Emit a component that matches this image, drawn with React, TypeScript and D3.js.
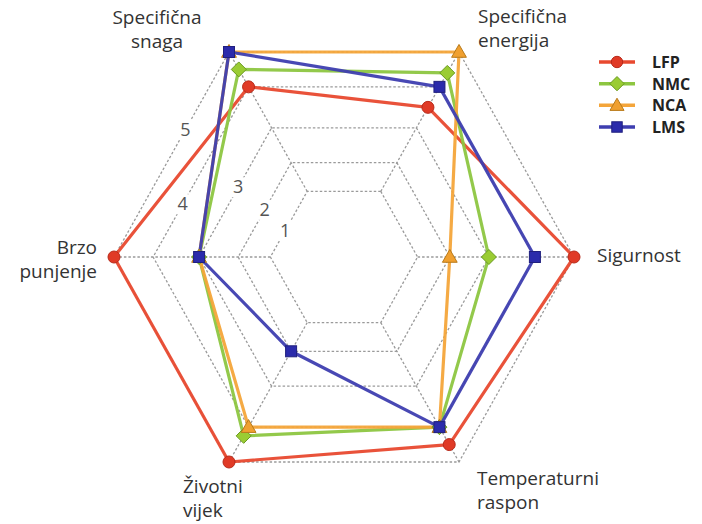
import React from "react";
import * as d3 from "d3";

const axes = [
  ["Specifična", "energija"],
  ["Sigurnost"],
  ["Temperaturni", "raspon"],
  ["Životni", "vijek"],
  ["Brzo", "punjenje"],
  ["Specifična", "snaga"],
];
const seriesNames = ["LFP", "NMC", "NCA", "LMS"];
const lfp = [3.5, 5, 4.5, 5, 5, 4];
const nmc = [4.4, 3, 4, 4.25, 3, 4.5];
const nca = [5, 2, 4, 4, 3, 5];
const lms = [4, 4, 4, 2, 3, 5];
const tickValues = [1, 2, 3, 4, 5];
const tickLabels = ["1", "2", "3", "4", "5"];

// layout / style
const W = 702, H = 524;
const cx = 344, cy = 257, RX = 230, RY = 236.7;
const tickT = [0.4, 0.5, 0.54, 0.31, 0.62];
const colors = ["#e8492f", "#8dc641", "#f4a53a", "#3e3eb0"];
const markFill = ["#e03a26", "#9acc33", "#f0a030", "#2b2bab"];
const markStroke = ["#b82a1a", "#6a9a20", "#b87a1a", "#20207e"];
const shapes = ["circle", "diamond", "triangle", "square"];

const r = d3.scaleLinear().domain([0, 1, 2, 3, 4, 5]).range([0, 0.32, 0.46, 0.63, 0.83, 1]);
const angle = (i: number) => ((30 + 60 * i) * Math.PI) / 180;
const pt = (i: number, v: number): [number, number] => {
  const a = angle(i);
  return [cx + RX * r(v) * Math.sin(a), cy - RY * r(v) * Math.cos(a)];
};

function Marker({ shape, x, y, fill, stroke, s = 1 }: any) {
  if (shape === "circle") return <circle cx={x} cy={y} r={6 * s} fill={fill} stroke={stroke} strokeWidth={1} />;
  if (shape === "diamond") {
    const h = 7.5 * s;
    return <path d={`M${x},${y - h}L${x + h},${y}L${x},${y + h}L${x - h},${y}Z`} fill={fill} stroke={stroke} strokeWidth={1} />;
  }
  if (shape === "triangle") {
    const p = d3.symbol(d3.symbolTriangle, 95 * s * s)();
    return <path d={p || ""} transform={`translate(${x},${y + 1})`} fill={fill} stroke={stroke} strokeWidth={1} />;
  }
  const h = 5.5 * s;
  return <rect x={x - h} y={y - h} width={2 * h} height={2 * h} fill={fill} stroke={stroke} strokeWidth={1} />;
}

export default function App() {
  const data = [lfp, nmc, nca, lms];
  const line = d3.line<[number, number]>().curve(d3.curveLinearClosed);
  const ringPath = (v: number) => line(axes.map((_, i) => pt(i, v))) || "";
  const font = "'Open Sans', sans-serif";
  const labelPos = [
    { x: 478, y: 23, anchor: "start", dy: 24 },
    { x: 597, y: 262, anchor: "start", dy: 0 },
    { x: 477, y: 485, anchor: "start", dy: 24 },
    { x: 183, y: 493, anchor: "start", dy: 24 },
    { x: 97, y: 254, anchor: "end", dy: 24 },
    { x: 157, y: 24, anchor: "middle", dy: 24 },
  ];
  const legendY = d3.scalePoint<string>().domain(seriesNames).range([62, 127]);
  return (
    <svg width={W} height={H} style={{ position: "absolute", left: 0, top: 0, background: "#fff" }}>
      <g fill="none" stroke="#9a9a9a" strokeWidth={1.3} strokeDasharray="2.5,2">
        {tickValues.map((v) => (
          <path key={v} d={ringPath(v)} />
        ))}
        {axes.map((_, i) => {
          const [x1, y1] = pt(i, tickValues[0]);
          const [x2, y2] = pt(i, tickValues[tickValues.length - 1]);
          return <line key={i} x1={x1} y1={y1} x2={x2} y2={y2} />;
        })}
      </g>
      {tickValues.map((v, k) => {
        const [x1, y1] = pt(4, v);
        const [x2, y2] = pt(5, v);
        const t = tickT[k];
        const x = x1 + (x2 - x1) * t;
        const y = y1 + (y2 - y1) * t;
        return (
          <g key={v}>
            <rect x={x - 7} y={y - 10} width={14} height={20} fill="#fff" />
            <text x={x} y={y + 6} textAnchor="middle" fontFamily={font} fontSize={18} fill="#555">
              {tickLabels[k]}
            </text>
          </g>
        );
      })}
      {data.map((vals, s) => (
        <path
          key={s}
          d={line(vals.map((v, i) => pt(i, v))) || ""}
          fill="none"
          stroke={colors[s]}
          strokeWidth={3.2}
          strokeLinejoin="round"
          opacity={0.95}
        />
      ))}
      {data.map((vals, s) =>
        vals.map((v, i) => {
          const [x, y] = pt(i, v);
          return <Marker key={`${s}-${i}`} shape={shapes[s]} x={x} y={y} fill={markFill[s]} stroke={markStroke[s]} />;
        })
      )}
      {axes.map((lines, i) => (
        <text key={i} fontFamily={font} fontSize={19} fill="#333" textAnchor={labelPos[i].anchor}>
          {lines.map((l, j) => (
            <tspan key={j} x={labelPos[i].x} y={labelPos[i].y + j * labelPos[i].dy}>
              {l}
            </tspan>
          ))}
        </text>
      ))}
      {seriesNames.map((n, s) => {
        const y = legendY(n) as number;
        return (
          <g key={n}>
            <line x1={599} x2={635} y1={y} y2={y} stroke={colors[s]} strokeWidth={3.5} />
            <Marker shape={shapes[s]} x={617} y={y} fill={markFill[s]} stroke={markStroke[s]} s={0.95} />
            <text x={652} y={y + 6} fontFamily={font} fontWeight={700} fontSize={16} fill="#222">
              {n}
            </text>
          </g>
        );
      })}
    </svg>
  );
}
